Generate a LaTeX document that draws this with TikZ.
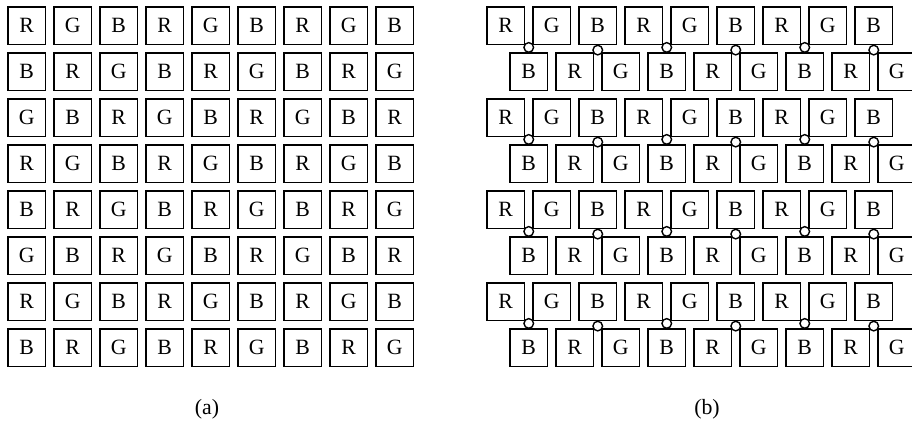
\documentclass[tikz,border=0pt]{standalone}
\usepackage{fontspec}
\setmainfont{Liberation Serif}
\usetikzlibrary{positioning}

\begin{document}
\begin{tikzpicture}[
    x=0.025cm, y=-0.025cm,
    pixbox/.style={rectangle, draw=black, line width=1.1pt, minimum size=0.9375cm, inner sep=0pt, font=\fontsize{15.5}{18}\selectfont},
    dot/.style={circle, draw=black, fill=white, line width=1pt, minimum size=0.24cm, inner sep=0pt},
    caption/.style={font=\fontsize{15.5}{18}\selectfont}
  ]
    \useasboundingbox (0,0) rectangle (912,424);
    % (a) regular grid
    \foreach \r in {0,...,7}
      \foreach \c in {0,...,8}{
        \pgfmathtruncatemacro{\k}{mod(\c-\r+9,3)}
        \ifcase\k \def\lt{R}\or \def\lt{G}\or \def\lt{B}\fi
        \node[pixbox] (pa-\r-\c) at (26.75+46*\c, 25.75+46*\r) {\lt};
      }
    % (b) staggered rows
    \foreach \r in {0,...,7}
      \foreach \c in {0,...,8}{
        \pgfmathtruncatemacro{\sh}{mod(\r,2)}
        \pgfmathtruncatemacro{\k}{mod(\c-\sh+9,3)}
        \ifcase\k \def\lt{R}\or \def\lt{G}\or \def\lt{B}\fi
        \node[pixbox] (pb-\r-\c) at (505.75+23*\sh+46*\c, 25.75+46*\r) {\lt};
      }
    % markers between the B pixels
    \foreach \r in {0,2,4,6}{
      \pgfmathtruncatemacro{\rr}{\r+1}
      \foreach \c in {0,3,6}
        \node[dot, above=-0.5pt of pb-\rr-\c] (db-\r-\c) {};
      \foreach \c in {2,5,8}
        \node[dot, below=-0.5pt of pb-\r-\c] (du-\r-\c) {};
    }
    \node[caption] (capa) at (207,409) {(a)};
    \node[caption] (capb) at (707,409) {(b)};
  \end{tikzpicture}
\end{document}
